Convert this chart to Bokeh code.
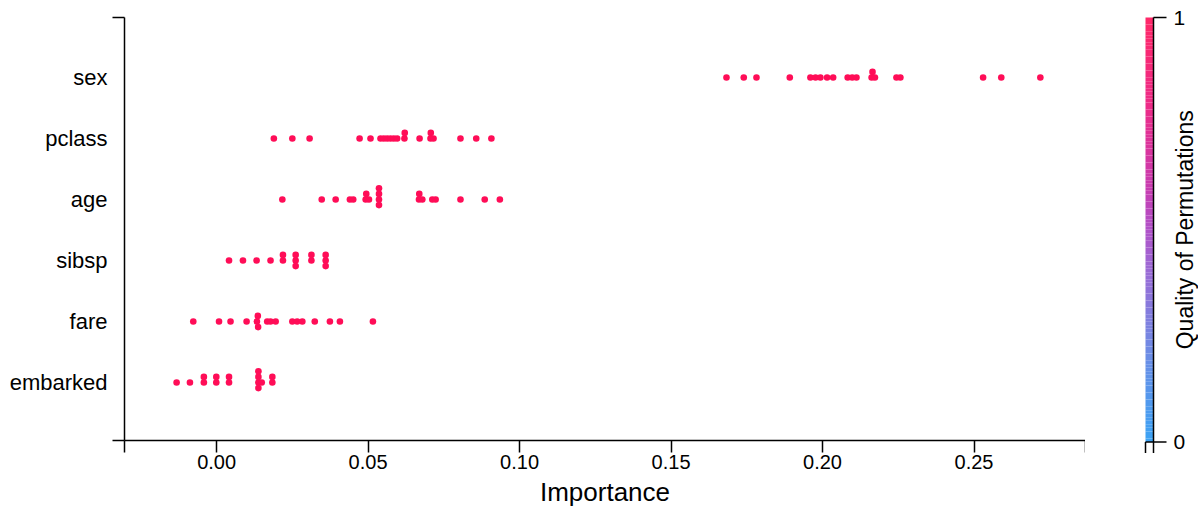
import numpy as np
from bokeh.plotting import figure
from bokeh.layouts import row
from bokeh.models import Range1d, FixedTicker, ColumnDataSource
from bokeh.embed import file_html
from bokeh.resources import INLINE
from bokeh.core.properties import value

# ---------------- data ----------------
features = ["embarked", "fare", "sibsp", "age", "pclass", "sex"]   # bottom -> top

imp_embarked = [-0.0132, -0.0088, -0.0042, -0.0042, -0.0001, -0.0001, 0.0041, 0.0041,
                0.0138, 0.0138, 0.0138, 0.0138, 0.0149, 0.0184, 0.0184]
imp_fare = [-0.0077, 0.0008, 0.0046, 0.0099, 0.0133, 0.0136, 0.0137, 0.0167, 0.0178,
            0.0195, 0.0250, 0.0266, 0.0283, 0.0324, 0.0374, 0.0407, 0.0516]
imp_sibsp = [0.0041, 0.0087, 0.0132, 0.0178, 0.0219, 0.0219, 0.0261, 0.0261, 0.0261,
             0.0313, 0.0313, 0.0360, 0.0360, 0.0360]
imp_age = [0.0217, 0.0347, 0.0393, 0.0440, 0.0451, 0.0492, 0.0494, 0.0503, 0.0536, 0.0536,
           0.0536, 0.0536, 0.0668, 0.0669, 0.0679, 0.0712, 0.0723, 0.0805, 0.0885, 0.0935]
imp_pclass = [0.0189, 0.0250, 0.0307, 0.0472, 0.0508, 0.0541, 0.0552, 0.0563, 0.0574, 0.0585,
              0.0596, 0.0620, 0.0621, 0.0670, 0.0706, 0.0707, 0.0716, 0.0805, 0.0857, 0.0907]
imp_sex = [0.1683, 0.1740, 0.1782, 0.1892, 0.1960, 0.1977, 0.1993, 0.2015, 0.2035, 0.2083,
           0.2098, 0.2112, 0.2162, 0.2165, 0.2173, 0.2244, 0.2257, 0.2530, 0.2590, 0.2719]

x_ticks = [0.0, 0.05, 0.10, 0.15, 0.20, 0.25]
x_tick_labels = ["0.00", "0.05", "0.10", "0.15", "0.20", "0.25"]
cb_ticks = [0.0, 1.0]
cb_tick_labels = ["0", "1"]
cb_stops = [0.0, 0.2, 0.4, 0.5, 0.6, 0.8, 1.0]
cb_colors = ["#3ba3f5", "#6b8ee6", "#9a6cd6", "#b052c8", "#c83cb0", "#ee2b86", "#ff2868"]
dot_color = "#ff0d57"

x_title = "Importance"
cb_title = "Quality of Permutations"

# ---------------- geometry ----------------
X_START, X_AXIS_END = -0.0304, 0.2868
FRAME_LEFT, FRAME_TOP, FRAME_W, FRAME_H = 124, 17, 961, 423
H = 511
BOTTOM = H - FRAME_TOP - FRAME_H
ROW_PX = 61.0
Y_START, Y_END = -0.951, 5.984
px_per_x = FRAME_W / (X_AXIS_END - X_START)

FONT = "Liberation Sans"
DOT = 6.6
STEP = 5.6
MIN_D = 3.0


def swarm(vals):
    vals = np.asarray(vals, float)
    order = np.argsort(vals, kind="stable")
    placed = []
    off = np.zeros(len(vals))
    cands = [0, 1, -1, 2, -2, 3, -3, 4, -4]
    for i in order:
        xp = vals[i] * px_per_x
        for c_ in cands:
            yp = c_ * STEP
            if all((xp - a) ** 2 + (yp - b) ** 2 >= MIN_D ** 2 - 1e-9 for a, b in placed):
                break
        placed.append((xp, yp))
        off[i] = yp / ROW_PX
    return off


rows = [imp_embarked, imp_fare, imp_sibsp, imp_age, imp_pclass, imp_sex]
xs, ys = [], []
for r, vals in enumerate(rows):
    off = swarm(vals)
    xs.extend(vals)
    ys.extend(list(r + off))
src = ColumnDataSource(dict(x=xs, y=ys))

p = figure(width=FRAME_LEFT + FRAME_W, height=H,
           x_range=Range1d(X_START, X_AXIS_END), y_range=Range1d(Y_START, Y_END),
           output_backend="svg", toolbar_location=None,
           min_border_left=FRAME_LEFT, min_border_right=0,
           min_border_top=FRAME_TOP, min_border_bottom=BOTTOM)
p.outline_line_color = None
p.grid.visible = False

eps = 1e-6
xa = p.xaxis[0]
xa.ticker = FixedTicker(ticks=x_ticks, minor_ticks=[X_START + eps, X_AXIS_END - eps])
xa.major_label_overrides = dict(zip(x_ticks, x_tick_labels))
xa.major_tick_out = 12
xa.major_tick_in = 0
xa.minor_tick_out = 12
xa.minor_tick_in = 0
xa.major_label_standoff = 2
xa.axis_label = x_title
xa.axis_label_standoff = 5
xa.major_label_text_font_size = "20px"
xa.axis_label_text_font_size = "26px"

ya = p.yaxis[0]
ya.ticker = FixedTicker(ticks=list(range(len(features))), minor_ticks=[Y_START + eps, Y_END - eps])
ya.major_label_overrides = {i: f for i, f in enumerate(features)}
ya.major_tick_out = 0
ya.major_tick_in = 0
ya.minor_tick_out = 12
ya.minor_tick_in = 0
ya.major_label_standoff = 5
ya.major_label_text_font_size = "22px"

for ax in (xa, ya):
    ax.axis_line_color = "black"
    ax.axis_line_width = 1.5
    ax.major_tick_line_color = "black"
    ax.major_tick_line_width = 1.5
    ax.minor_tick_line_color = "black"
    ax.minor_tick_line_width = 1.5
    ax.major_label_text_font = FONT
    ax.major_label_text_color = "black"
    ax.axis_label_text_font = FONT
    ax.axis_label_text_font_style = "normal"
    ax.axis_label_text_color = "black"

p.scatter("x", "y", source=src, size=DOT, fill_color=dot_color, line_color=None)

# ---------------- colour bar (separate small figure, y in screen pixels from top) ----------------
CW = 113
CB_L, CB_R, CB_TICK, CB_LAB, CB_TITLE = 60, 68, 81, 88, 99
CB_TOP, CB_BOT = 17.0, 441.5
c = figure(width=CW, height=H, x_range=Range1d(0, CW), y_range=Range1d(H, 0),
           output_backend="svg", toolbar_location=None,
           x_axis_location=None, y_axis_location=None, min_border=0)
c.outline_line_color = None
c.grid.visible = False
for fig in (p, c):
    if "frame_align" in fig.properties():
        fig.frame_align = False


def qy(q):
    return CB_BOT - np.asarray(q, float) * (CB_BOT - CB_TOP)


n = 120
qs = np.linspace(0, 1, n + 1)
rgb = np.array([[int(h[i:i + 2], 16) for i in (1, 3, 5)] for h in cb_colors], float)
mid = (qs[:-1] + qs[1:]) / 2
cols = ["#%02x%02x%02x" % tuple(int(round(np.interp(m, cb_stops, rgb[:, k]))) for k in range(3))
        for m in mid]
c.quad(left=CB_L, right=CB_R, bottom=qy(qs[:-1]), top=qy(qs[1:]), fill_color=cols, line_color=None)
c.segment(x0=[CB_R], y0=[CB_TOP], x1=[CB_R], y1=[CB_BOT], line_color="black", line_width=1.5)
c.segment(x0=[CB_R] * len(cb_ticks), y0=qy(cb_ticks), x1=[CB_TICK] * len(cb_ticks), y1=qy(cb_ticks),
          line_color="black", line_width=1.5)
# small outer ticks under the bar
c.segment(x0=[CB_L, CB_L, CB_R], y0=[CB_BOT, CB_BOT, CB_BOT], x1=[CB_R, CB_L, CB_R],
          y1=[CB_BOT, CB_BOT + 11, CB_BOT + 11], line_color="black", line_width=1.5)
c.text(x=[CB_LAB] * len(cb_ticks), y=qy(cb_ticks), text=cb_tick_labels,
       text_font=value(FONT), text_font_size="21px", text_color="black",
       text_align="left", text_baseline="middle")
c.text(x=[CB_TITLE], y=qy([0.5]), text=[cb_title], angle=np.pi / 2,
       text_font=value(FONT), text_font_size="23px", text_color="black",
       text_align="center", text_baseline="middle")

open("out.html", "w").write(file_html(row(p, c), INLINE))
